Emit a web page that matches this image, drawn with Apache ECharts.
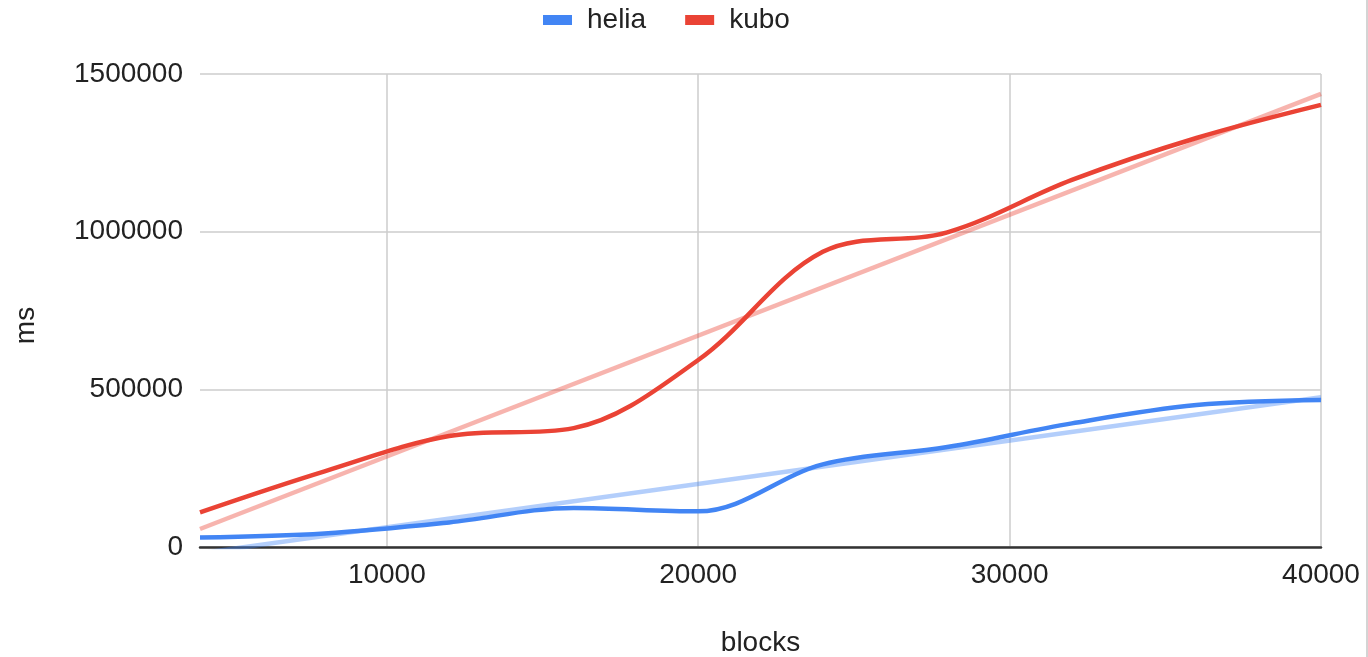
<!DOCTYPE html>
<html>
<head>
<meta charset="utf-8">
<title>helia vs kubo</title>
<script src="https://cdn.jsdelivr.net/npm/echarts@6/dist/echarts.min.js"></script>
<style>
  html, body { margin: 0; padding: 0; background: #fff; }
  #chart { width: 1368px; height: 657px; }
</style>
</head>
<body>
<div id="chart"></div>
<script>
// Import time (ms) by number of blocks
const blocks = [4000, 8000, 12000, 16000, 20000, 24000, 28000, 32000, 36000, 40000];
const heliaMs = [30000, 43000, 78000, 124000, 113000, 262000, 317000, 392000, 450000, 466000];
const kuboMs = [110000, 240000, 352000, 377000, 593000, 936000, 998000, 1164000, 1297000, 1402000];

const xTicks = [10000, 20000, 30000, 40000];
const yTicks = [0, 500000, 1000000, 1500000];

const BLUE = '#4285F4';
const RED = '#EA4335';
const FONT = '"Liberation Sans", Arial, sans-serif';
const TEXT = '#222222';

// Least-squares linear trend over the series, evaluated at the ends of the range
function linearTrend(xs, ys) {
  const n = xs.length;
  const mx = xs.reduce((a, b) => a + b, 0) / n;
  const my = ys.reduce((a, b) => a + b, 0) / n;
  let sxy = 0, sxx = 0;
  for (let i = 0; i < n; i++) {
    sxy += (xs[i] - mx) * (ys[i] - my);
    sxx += (xs[i] - mx) * (xs[i] - mx);
  }
  const k = sxy / sxx;
  const b = my - k * mx;
  const x0 = xs[0], x1 = xs[n - 1];
  return [[x0, k * x0 + b], [x1, k * x1 + b]];
}

const pairs = (xs, ys) => xs.map((x, i) => [x, ys[i]]);
const plain = v => String(v);

const chart = echarts.init(document.getElementById('chart'), null, { renderer: 'canvas' });

chart.setOption({
  backgroundColor: '#ffffff',
  animation: false,
  textStyle: { fontFamily: FONT, color: TEXT },
  legend: {
    data: ['helia', 'kubo'],
    left: 538,
    top: 1,
    icon: 'rect',
    itemWidth: 29,
    itemHeight: 10,
    itemGap: 39,
    textStyle: { fontSize: 28, color: TEXT, fontFamily: FONT, padding: [0, 0, 0, 10] }
  },
  grid: { left: 200, right: 47, top: 74, bottom: 110, containLabel: false, outerBoundsMode: 'none' },
  xAxis: {
    type: 'value',
    min: blocks[0],
    max: blocks[blocks.length - 1],
    name: 'blocks',
    nameLocation: 'middle',
    nameGap: 82,
    nameTextStyle: { fontSize: 28, color: TEXT, fontFamily: FONT },
    axisLine: { show: true, onZero: false, lineStyle: { color: '#333333', width: 2.5 } },
    axisTick: { show: false, customValues: xTicks },
    axisLabel: { customValues: xTicks, formatter: plain, fontSize: 28, color: TEXT, margin: 14, fontFamily: FONT },
    splitLine: { show: true, lineStyle: { color: '#cccccc', width: 1.5 } }
  },
  yAxis: {
    type: 'value',
    min: yTicks[0],
    max: yTicks[yTicks.length - 1],
    interval: yTicks[1] - yTicks[0],
    name: 'ms',
    nameLocation: 'middle',
    nameRotate: 90,
    nameGap: 160,
    nameTextStyle: { fontSize: 28, color: TEXT, fontFamily: FONT, padding: [0, 30, 0, 0] },
    axisLine: { show: false },
    axisTick: { show: false },
    axisLabel: { formatter: plain, fontSize: 28, color: TEXT, margin: 17, fontFamily: FONT },
    splitLine: { show: true, lineStyle: { color: '#cccccc', width: 1.5 } }
  },
  series: [
    {
      name: 'helia trend',
      type: 'line',
      data: linearTrend(blocks, heliaMs),
      showSymbol: false,
      silent: true,
      lineStyle: { color: BLUE, width: 4.5, opacity: 0.4 },
      z: 2
    },
    {
      name: 'kubo trend',
      type: 'line',
      data: linearTrend(blocks, kuboMs),
      showSymbol: false,
      silent: true,
      lineStyle: { color: RED, width: 4.5, opacity: 0.4 },
      z: 2
    },
    {
      name: 'helia',
      type: 'line',
      data: pairs(blocks, heliaMs),
      smooth: 0.35,
      showSymbol: false,
      itemStyle: { color: BLUE },
      lineStyle: { color: BLUE, width: 4.5 },
      z: 3
    },
    {
      name: 'kubo',
      type: 'line',
      data: pairs(blocks, kuboMs),
      smooth: 0.35,
      showSymbol: false,
      itemStyle: { color: RED },
      lineStyle: { color: RED, width: 4.5 },
      z: 3
    }
  ],
  graphic: [
    {
      type: 'rect',
      right: 0,
      top: 0,
      shape: { width: 2, height: 657 },
      style: { fill: '#d4d4d4' },
      silent: true
    }
  ]
});
</script>
</body>
</html>
